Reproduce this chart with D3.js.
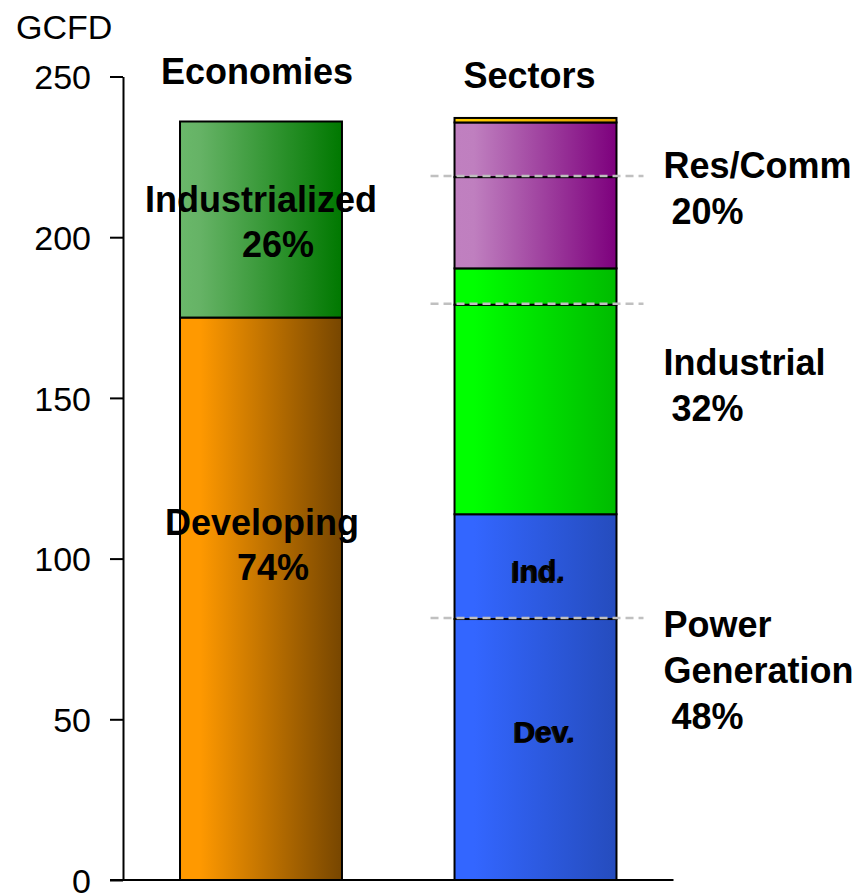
<!DOCTYPE html>
<meta charset="utf-8">
<style>
body { margin: 0; background: #fff; }
text { font-family: "Liberation Sans", Arial, sans-serif; fill: #000; }
.lbl { font-weight: bold; font-size: 36px; }
.axis text { font-size: 34px; }
.axis path, .axis line { stroke: #000; stroke-width: 2px; }
</style>
<body>
<script src="https://d3js.org/d3.v7.min.js"></script>
<script>

// categories (bars)
var bars = ["Economies", "Sectors"];

// Economies bar: developing / industrialized (GCFD)
var econNames = ["Developing", "Industrialized"];
var econValues = [175, 61];
var econPct = ["74%", "26%"];

// Sectors bar: each sector split into developing / industrialized part
var sectorNames = ["Power Generation", "Industrial", "Res/Comm", "Other"];
var sectorDev = [81.2, 65.2, 28.4, 1.4];
var sectorInd = [32.6, 11.3, 17.0, 0];
var sectorPct = ["48%", "32%", "20%", ""];

var yTicks = [0, 50, 100, 150, 200, 250];

var width = 863, height = 894;

var svg = d3.select("body").append("svg")
    .attr("width", width)
    .attr("height", height);

// scales
var x = d3.scaleBand().domain(bars).range([123, 673.5])
    .paddingInner(0.41).paddingOuter(0.2077);
var y = d3.scaleLinear().domain([0, 250]).range([880, 76.5]);

// gradients (light at left, dark at right)
var grads = {
  dev:   ["#ff9900", "#ff9900", "#774600"],
  ind:   ["#6ab86a", "#66b366", "#007800"],
  power: ["#3366ff", "#3366ff", "#254cbd"],
  indus: ["#00ff00", "#00ff00", "#00bb00"],
  res:   ["#c080c0", "#bf7fbf", "#7d007d"],
  other: ["#ffcc00", "#ffcc00", "#e0a000"]
};
var defs = svg.append("defs");
Object.keys(grads).forEach(function(k) {
  var g = defs.append("linearGradient").attr("id", "g-" + k)
      .attr("x1", "0%").attr("x2", "100%").attr("y1", "0%").attr("y2", "0%");
  g.append("stop").attr("offset", "0%").attr("stop-color", grads[k][0]);
  g.append("stop").attr("offset", "12%").attr("stop-color", grads[k][1]);
  g.append("stop").attr("offset", "100%").attr("stop-color", grads[k][2]);
});

// build segments
var segs = [];
var base = 0;
econValues.forEach(function(v, i) {
  segs.push({bar: "Economies", y0: base, y1: base + v, fill: i === 0 ? "dev" : "ind"});
  base += v;
});
var sectorFill = ["power", "indus", "res", "other"];
var splits = [];
var sectorTops = [];
base = 0;
sectorNames.forEach(function(n, i) {
  var d = sectorDev[i], ind = sectorInd[i];
  if (d > 0) segs.push({bar: "Sectors", y0: base, y1: base + d, fill: sectorFill[i]});
  if (ind > 0) {
    segs.push({bar: "Sectors", y0: base + d, y1: base + d + ind, fill: sectorFill[i]});
    splits.push(base + d);
  }
  base += d + ind;
  sectorTops.push(base);
});

svg.selectAll("rect.seg").data(segs).enter().append("rect")
    .attr("class", "seg")
    .attr("x", function(d) { return x(d.bar); })
    .attr("width", x.bandwidth())
    .attr("y", function(d) { return y(d.y1); })
    .attr("height", function(d) { return y(d.y0) - y(d.y1); })
    .attr("fill", function(d) { return "url(#g-" + d.fill + ")"; })
    .attr("stroke", "#000")
    .attr("stroke-width", 2);

// dashed dev/ind split lines across sectors bar
svg.selectAll("line.split").data(splits).enter().append("line")
    .attr("class", "split")
    .attr("x1", x("Sectors") - 24)
    .attr("x2", x("Sectors") + x.bandwidth() + 27)
    .attr("y1", function(d) { return y(d) - 1; })
    .attr("y2", function(d) { return y(d) - 1; })
    .attr("stroke", "#c0c0c0")
    .attr("stroke-width", 2.5)
    .attr("stroke-dasharray", "8,5");

// axes
svg.append("g")
    .attr("class", "axis")
    .attr("transform", "translate(123,0)")
    .call(d3.axisLeft(y).tickValues(yTicks).tickSize(13).tickPadding(19).tickSizeOuter(0))
    .call(function(g) { g.selectAll("text").attr("dy", "0.36em"); });
svg.append("line")
    .attr("x1", 110).attr("x2", x.range()[1])
    .attr("y1", y(0)).attr("y2", y(0))
    .attr("stroke", "#000").attr("stroke-width", 2);

svg.append("text").attr("x", 16).attr("y", 39)
    .style("font-size", "34px").text("GCFD");

// bar titles
svg.selectAll("text.title").data(bars).enter().append("text")
    .attr("class", "lbl")
    .attr("text-anchor", "middle")
    .attr("x", function(d, i) { return x(d) + x.bandwidth() / 2 - (i === 0 ? 4 : 6); })
    .attr("y", function(d, i) { return i === 0 ? 84 : 88; })
    .text(function(d) { return d; });

// economies labels
var econLbl = [
  {name: econNames[1], pct: econPct[1], v: econValues[0] + econValues[1] * 0.54, dx: -35, dxp: 62},
  {name: econNames[0], pct: econPct[0], v: econValues[0] * 0.613, dx: -15, dxp: 57}
];
econLbl.forEach(function(d) {
  svg.append("text").attr("class", "lbl")
      .attr("x", x("Economies") + d.dx).attr("y", y(d.v)).text(d.name);
  svg.append("text").attr("class", "lbl")
      .attr("x", x("Economies") + d.dxp).attr("y", y(d.v) + 45).text(d.pct);
});

// sector labels (right side)
var rightX = x("Sectors") + x.bandwidth() + 47;
var sectorLbl = [
  {lines: ["Res/Comm"], pct: sectorPct[2], yb: 178},
  {lines: ["Industrial"], pct: sectorPct[1], yb: 375},
  {lines: ["Power", "Generation"], pct: sectorPct[0], yb: 637}
];
sectorLbl.forEach(function(d) {
  d.lines.forEach(function(l, j) {
    svg.append("text").attr("class", "lbl")
        .attr("x", rightX).attr("y", d.yb + j * 46).text(l);
  });
  svg.append("text").attr("class", "lbl")
      .attr("x", rightX + 8).attr("y", d.yb + d.lines.length * 46).text(d.pct);
});

// Ind. / Dev. labels inside power bar (with shadow)
var inner = [
  {t: "Ind.", v: (sectorDev[0] + sectorTops[0]) / 2 - 4.5, dx: 3},
  {t: "Dev.", v: sectorDev[0] * 0.53, dx: 9}
];
inner.forEach(function(d) {
  var cx = x("Sectors") + x.bandwidth() / 2 + d.dx;
  svg.append("text").attr("text-anchor", "middle")
      .attr("x", cx - 1.5).attr("y", y(d.v) + 1.5)
      .style("font-weight", "bold").style("font-size", "30px")
      .style("fill", "#111").text(d.t);
  svg.append("text").attr("text-anchor", "middle")
      .attr("x", cx).attr("y", y(d.v))
      .style("font-weight", "bold").style("font-size", "30px").text(d.t);
});

</script>
</body>
